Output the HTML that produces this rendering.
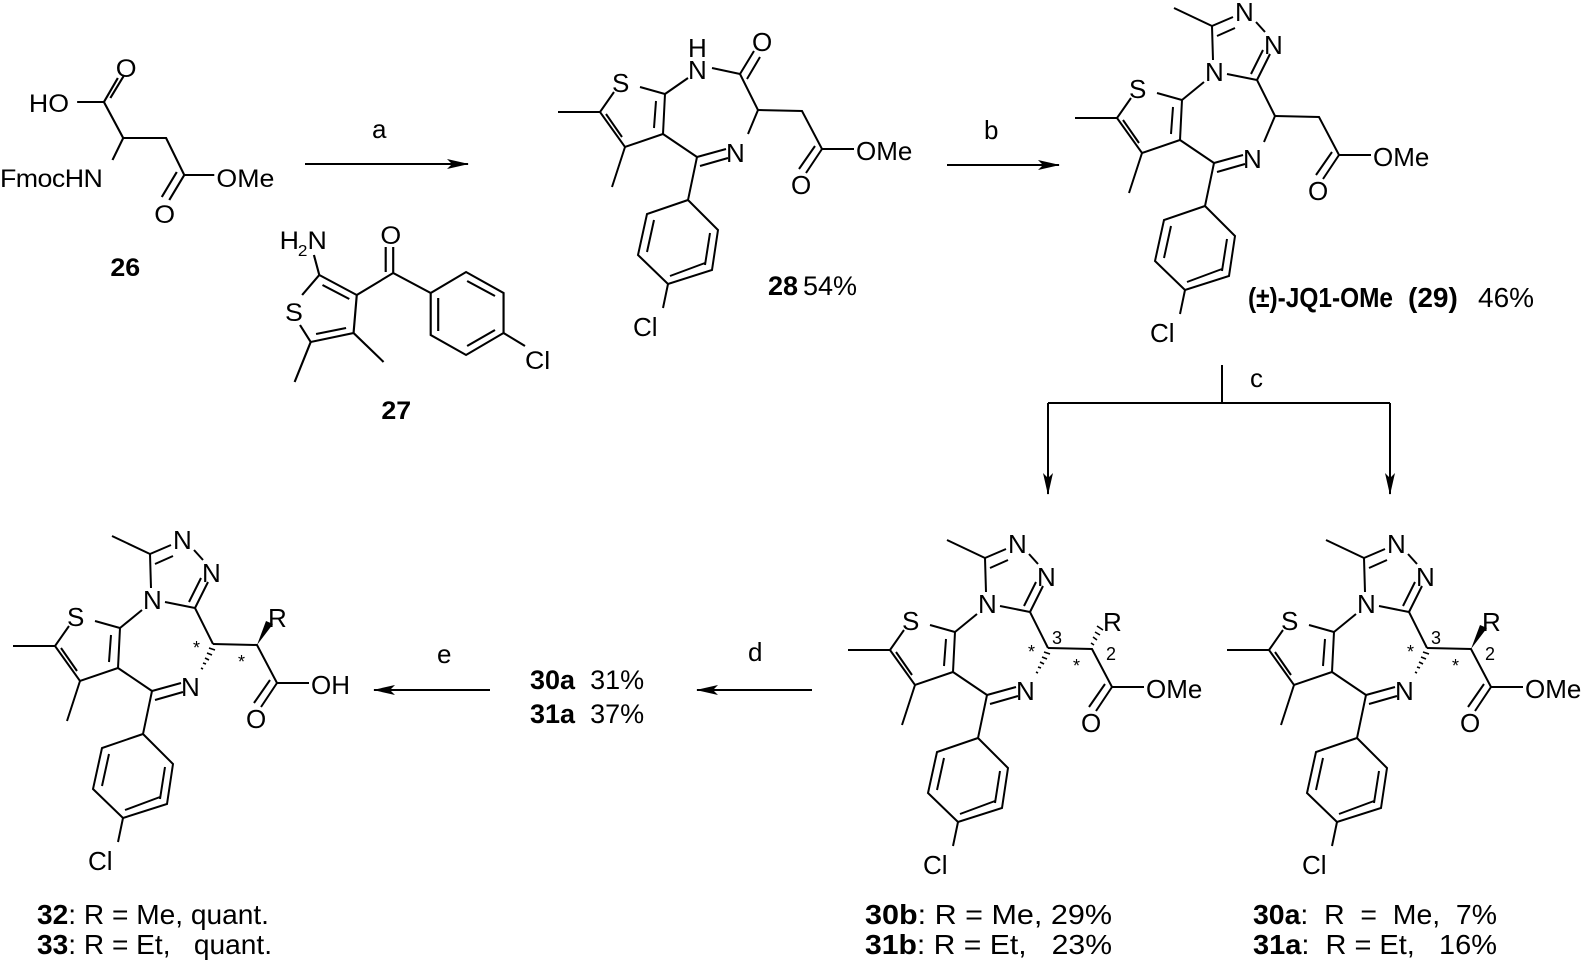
<!DOCTYPE html>
<html><head><meta charset="utf-8"><style>
html,body{margin:0;padding:0;background:#fff}
svg{display:block}
text{font-family:"Liberation Sans",Arial,sans-serif;fill:#000;white-space:pre}
</style></head><body>
<svg width="1583" height="964" viewBox="0 0 1583 964" xmlns="http://www.w3.org/2000/svg">
<defs>
<marker id="ah" markerWidth="22" markerHeight="10" refX="21" refY="5" orient="auto" markerUnits="userSpaceOnUse"><path d="M0,0 L22,5 L0,10 L5,5 z" fill="#000"/></marker>
<g id="core" stroke="#000" stroke-width="2" fill="none">
  <path d="M930,625 L955,632 L953,672 L915,685 L890,650 L904,630"/>
  <path d="M946,639 L944,666 M912,675 L896,652"/>
  <path d="M890,650 L848,650 M915,685 L902,725"/>
  <path d="M953,672 L987,695 L1016,687 M990,704 L1018,696"/>
  <path d="M987,695 L978,738 L1008,768 L1002,808 L958,822 L928,793 L937,752 L978,738"/>
  <path d="M1000,771 L995,803 M944,758 L937,790 M960,814 L995,801"/>
  <path d="M958,822 L953,846"/>
  <text x="902" y="630" font-size="26" stroke="none" fill="#000">S</text>
  <text x="1016" y="700" font-size="26" stroke="none" fill="#000">N</text>
  <text x="923" y="874" font-size="26" stroke="none" fill="#000">Cl</text>
</g>
<g id="tri" stroke="#000" stroke-width="2" fill="none">
  <path d="M955,632 L977,614"/>
  <path d="M986,592 L985,558 L1006,549 M990,568 L1008,560"/>
  <path d="M985,558 L947,540"/>
  <path d="M1029,554 L1038,564"/>
  <path d="M1043,586 L1030,612 M1036,582 L1024,606"/>
  <path d="M1000,606 L1030,612 L1048,648"/>
  <text x="978" y="613" font-size="26" stroke="none" fill="#000">N</text>
  <text x="1008" y="553" font-size="26" stroke="none" fill="#000">N</text>
  <text x="1037" y="586" font-size="26" stroke="none" fill="#000">N</text>
</g>
<g id="side" stroke="#000" stroke-width="2" fill="none">
  <path d="M1048,648 L1092,649 L1112,687 L1144,687"/>
  <path d="M1112,687 L1096,711 M1105,684 L1089,707"/>
  <text x="1081" y="732" font-size="26" stroke="none" fill="#000">O</text>
</g>
<g id="hashN" stroke="#000" stroke-width="1.6">
  <path d="M1036,672 L1038,673 M1038,667 L1041,668 M1040,662 L1044,664 M1042,657 L1047,659 M1044,652 L1050,654"/>
</g>
<g id="stars">
  <text x="1028" y="658" font-size="18">*</text>
  <text x="1073" y="672" font-size="18">*</text>
  <text x="1052" y="644" font-size="18">3</text>
  <text x="1106" y="660" font-size="18">2</text>
</g>
</defs>

<g transform="scale(1.0714,1)">
<!-- 26 -->
<g stroke="#000" stroke-width="2" fill="none">
  <path d="M72,102 L97,102 L115,138 L105,160 M97,102 L110,78 M103,98 L116,75"/>
  <path d="M115,138 L155,138 L172,175 L200,175 M172,175 L158,200 M165,172 L151,197"/>
</g>
<text x="27" y="112" font-size="25">HO</text>
<text x="108" y="77" font-size="25">O</text>
<text x="0" y="187" font-size="25" textLength="96">FmocHN</text>
<text x="202" y="187" font-size="25">OMe</text>
<text x="144" y="223" font-size="25">O</text>
<text x="103" y="276" font-size="25" font-weight="bold">26</text>

<!-- 27 -->
<g stroke="#000" stroke-width="2" fill="none">
  <path d="M293,255 L298,275 L333,295 L330,333 L290,342 L280,325 M282,295 L298,275"/>
  <path d="M301,285 L326,299 M323,328 L295,334"/>
  <path d="M290,342 L275,382 M330,333 L358,362"/>
  <path d="M333,295 L367,273 L367,247 M360,272 L360,247 M367,273 L402,293"/>
  <path d="M402,293 L435,272 L470,293 L470,333 L435,355 L402,335 Z"/>
  <path d="M436,281 L462,296 M462,330 L436,346 M409,298 L409,331"/>
  <path d="M470,333 L490,346"/>
</g>
<text x="261" y="249" font-size="25">H</text><text x="278" y="256" font-size="16">2</text><text x="287" y="249" font-size="25">N</text>
<text x="266" y="321" font-size="25">S</text>
<text x="355" y="244" font-size="25">O</text>
<text x="490" y="369" font-size="25">Cl</text>
<text x="356" y="419" font-size="25" font-weight="bold">27</text>
</g>

<!-- arrow a -->
<line x1="305" y1="164" x2="468" y2="164" stroke="#000" stroke-width="2" marker-end="url(#ah)"/>
<text x="372" y="138" font-size="26">a</text>

<!-- 28 -->
<g transform="translate(-290,-538)">
  <use href="#core"/>
  <g stroke="#000" stroke-width="2" fill="none">
    <path d="M955,632 L978,616"/>
    <path d="M1002,606 L1030,612 L1044,589 M1037,617 L1050,595"/>
    <path d="M1030,612 L1048,648 L1038,672"/>
  </g>
  <text x="978" y="617" font-size="26">N</text>
  <text x="978" y="595" font-size="26">H</text>
  <text x="1042" y="589" font-size="26">O</text>
  <use href="#side"/>
  <text x="1146" y="698" font-size="26">OMe</text>
</g>
<text x="768" y="295" font-size="27" font-weight="bold">28</text>
<text x="803" y="295" font-size="27">54%</text>

<!-- arrow b -->
<line x1="947" y1="165" x2="1059" y2="165" stroke="#000" stroke-width="2" marker-end="url(#ah)"/>
<text x="984" y="139" font-size="26">b</text>

<!-- 29 -->
<g transform="translate(227,-532)">
  <use href="#core"/><use href="#tri"/><use href="#side"/>
  <line x1="1037" y1="674" x2="1048" y2="648" stroke="#000" stroke-width="2"/>
  <text x="1146" y="698" font-size="26">OMe</text>
</g>
<text x="1248" y="307" font-size="28" font-weight="bold" textLength="145" lengthAdjust="spacingAndGlyphs">(±)-JQ1-OMe</text>
<text x="1408" y="307" font-size="28" font-weight="bold">(29)</text>
<text x="1478" y="307" font-size="28">46%</text>

<!-- arrow c -->
<g stroke="#000" stroke-width="2" fill="none">
  <path d="M1222,365 L1222,403 M1048,403 L1390,403"/>
  <line x1="1048" y1="403" x2="1048" y2="494" marker-end="url(#ah)"/>
  <line x1="1390" y1="403" x2="1390" y2="494" marker-end="url(#ah)"/>
</g>
<text x="1250" y="387" font-size="26">c</text>

<!-- 30b -->
<g>
  <use href="#core"/><use href="#tri"/><use href="#side"/><use href="#hashN"/><use href="#stars"/>
  <path d="M1094,645 L1091,643 M1097,640 L1093,637 M1100,635 L1095,632 M1103,630 L1097,626" stroke="#000" stroke-width="1.6"/>
  <text x="1103" y="631" font-size="26">R</text>
  <text x="1146" y="698" font-size="26">OMe</text>
</g>
<text x="865" y="924" font-size="28" textLength="247" lengthAdjust="spacingAndGlyphs"><tspan font-weight="bold">30b</tspan>: R = Me, 29%</text>
<text x="865" y="954" font-size="28" textLength="247" lengthAdjust="spacingAndGlyphs"><tspan font-weight="bold">31b</tspan>: R = Et,   23%</text>

<!-- 30a -->
<g transform="translate(379,0)">
  <use href="#core"/><use href="#tri"/><use href="#side"/><use href="#hashN"/><use href="#stars"/>
  <polygon points="1092,649 1101,625 1108,628" fill="#000"/>
  <text x="1103" y="631" font-size="26">R</text>
  <text x="1146" y="698" font-size="26">OMe</text>
</g>
<text x="1253" y="924" font-size="28" textLength="244" lengthAdjust="spacingAndGlyphs"><tspan font-weight="bold">30a</tspan>:  R  =  Me,  7%</text>
<text x="1253" y="954" font-size="28" textLength="244" lengthAdjust="spacingAndGlyphs"><tspan font-weight="bold">31a</tspan>:  R = Et,   16%</text>

<!-- arrow d -->
<line x1="812" y1="690" x2="697" y2="690" stroke="#000" stroke-width="2" marker-end="url(#ah)"/>
<text x="748" y="661" font-size="26">d</text>
<text x="530" y="689" font-size="27"><tspan font-weight="bold">30a</tspan>  31%</text>
<text x="530" y="723" font-size="27"><tspan font-weight="bold">31a</tspan>  37%</text>

<!-- arrow e -->
<line x1="490" y1="690" x2="374" y2="690" stroke="#000" stroke-width="2" marker-end="url(#ah)"/>
<text x="437" y="663" font-size="26">e</text>

<!-- 32 -->
<g transform="translate(-835,-4)">
  <use href="#core"/><use href="#tri"/><use href="#side"/><use href="#hashN"/>
  <text x="1028" y="658" font-size="18">*</text><text x="1073" y="672" font-size="18">*</text>
  <polygon points="1092,649 1101,625 1108,628" fill="#000"/>
  <text x="1103" y="631" font-size="26">R</text>
  <text x="1146" y="698" font-size="26">OH</text>
</g>
<text x="37" y="924" font-size="28" textLength="232" lengthAdjust="spacingAndGlyphs"><tspan font-weight="bold">32</tspan>: R = Me, quant.</text>
<text x="37" y="954" font-size="28" textLength="235" lengthAdjust="spacingAndGlyphs"><tspan font-weight="bold">33</tspan>: R = Et,   quant.</text>
</svg>
</body></html>
